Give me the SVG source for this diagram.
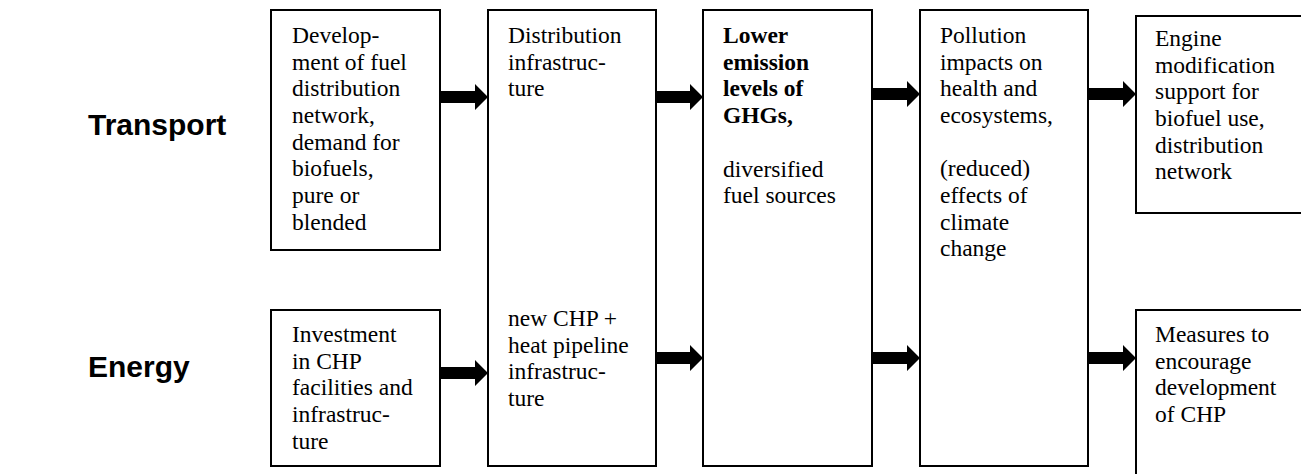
<svg xmlns="http://www.w3.org/2000/svg" width="1301" height="474" viewBox="0 0 1301 474">
<style>
.box{fill:#fff;stroke:#000;stroke-width:2}
.t{font-family:"Liberation Serif","Times New Roman",serif;font-size:23.5px;fill:#000}
.b{font-weight:bold}
.lab{font-family:"Liberation Sans",Arial,sans-serif;font-size:30px;font-weight:bold;fill:#000}
.arr{fill:#000}
</style>
<rect width="1301" height="474" fill="#fff"/>
<g id="label-transport"><text class="lab" x="88" y="135">Transport</text></g>
<g id="label-energy"><text class="lab" x="88" y="377">Energy</text></g>

<g id="t1">
<rect class="box" x="271" y="10" width="169" height="240"/>
<text class="t" x="292" y="43">Develop-<tspan x="292" dy="26.67">ment of fuel</tspan><tspan x="292" dy="26.67">distribution</tspan><tspan x="292" dy="26.67">network,</tspan><tspan x="292" dy="26.67">demand for</tspan><tspan x="292" dy="26.67">biofuels,</tspan><tspan x="292" dy="26.67">pure or</tspan><tspan x="292" dy="26.67">blended</tspan></text>
</g>
<g id="e1">
<rect class="box" x="271" y="310" width="169" height="156"/>
<text class="t" x="292" y="342">Investment<tspan x="292" dy="26.67">in CHP</tspan><tspan x="292" dy="26.67">facilities and</tspan><tspan x="292" dy="26.67">infrastruc-</tspan><tspan x="292" dy="26.67">ture</tspan></text>
</g>
<g id="n2">
<rect class="box" x="488" y="10" width="168" height="456"/>
<text class="t" x="508" y="43">Distribution<tspan x="508" dy="26.67">infrastruc-</tspan><tspan x="508" dy="26.67">ture</tspan></text>
<text class="t" x="508" y="326">new CHP +<tspan x="508" dy="26.67">heat pipeline</tspan><tspan x="508" dy="26.67">infrastruc-</tspan><tspan x="508" dy="26.67">ture</tspan></text>
</g>
<g id="n3">
<rect class="box" x="703" y="10" width="169" height="456"/>
<text class="t b" x="723" y="43">Lower<tspan x="723" dy="26.67">emission</tspan><tspan x="723" dy="26.67">levels of</tspan><tspan x="723" dy="26.67">GHGs,</tspan></text>
<text class="t" x="723" y="176.5">diversified<tspan x="723" dy="26.67">fuel sources</tspan></text>
</g>
<g id="n4">
<rect class="box" x="920" y="10" width="168" height="456"/>
<text class="t" x="940" y="43">Pollution<tspan x="940" dy="26.67">impacts on</tspan><tspan x="940" dy="26.67">health and</tspan><tspan x="940" dy="26.67">ecosystems,</tspan><tspan x="940" dy="53.34">(reduced)</tspan><tspan x="940" dy="26.67">effects of</tspan><tspan x="940" dy="26.67">climate</tspan><tspan x="940" dy="26.67">change</tspan></text>
</g>
<g id="t5">
<rect class="box" x="1136" y="16" width="175" height="197"/>
<text class="t" x="1155" y="46">Engine<tspan x="1155" dy="26.67">modification</tspan><tspan x="1155" dy="26.67">support for</tspan><tspan x="1155" dy="26.67">biofuel use,</tspan><tspan x="1155" dy="26.67">distribution</tspan><tspan x="1155" dy="26.67">network</tspan></text>
</g>
<g id="e5">
<rect class="box" x="1136" y="310" width="175" height="180"/>
<text class="t" x="1155" y="342">Measures to<tspan x="1155" dy="26.67">encourage</tspan><tspan x="1155" dy="26.67">development</tspan><tspan x="1155" dy="26.67">of CHP</tspan></text>
</g>

<g id="connectors">
<path class="arr" d="M440,91 H475 V84 L488,97 L475,110 V103 H440 Z"/>
<path class="arr" d="M656,91 H690 V84 L703,97 L690,110 V103 H656 Z"/>
<path class="arr" d="M872,88 H907 V81 L920,94 L907,107 V100 H872 Z"/>
<path class="arr" d="M1088,88 H1123 V81 L1136,94 L1123,107 V100 H1088 Z"/>
<path class="arr" d="M440,367 H475 V360 L488,373 L475,386 V379 H440 Z"/>
<path class="arr" d="M656,352 H690 V345 L703,358 L690,371 V364 H656 Z"/>
<path class="arr" d="M872,352 H907 V345 L920,358 L907,371 V364 H872 Z"/>
<path class="arr" d="M1088,352 H1123 V345 L1136,358 L1123,371 V364 H1088 Z"/>
</g>
</svg>
